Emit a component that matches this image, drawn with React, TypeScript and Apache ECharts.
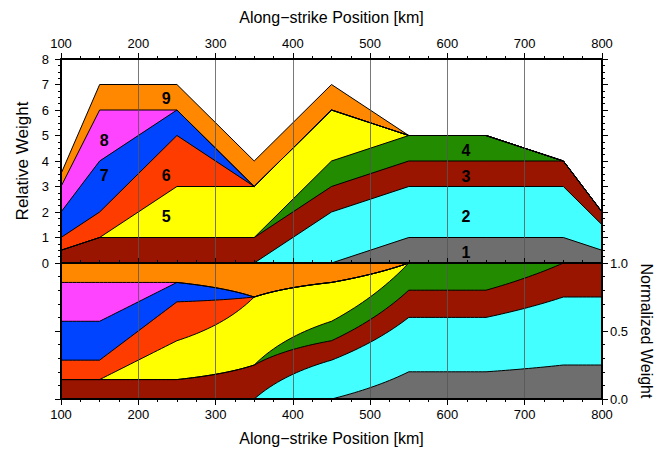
import React, { useEffect, useRef } from 'react';
import * as echarts from 'echarts';

// Along-strike positions (km) where the layer weights are defined
const positions = [100, 150, 250, 350, 450, 550, 650, 750, 800];

// Relative weight (thickness) of each layer at the positions above
const layer1 = [0, 0, 0, 0, 0, 1, 1, 1, 0.5];
const layer2 = [0, 0, 0, 0, 2, 2, 2, 2, 1];
const layer3 = [0.5, 1, 1, 1, 1, 1, 1, 1, 0.5];
const layer4 = [0, 0, 0, 0, 1, 1, 1, 0, 0];
const layer5 = [0, 0, 2, 2, 2, 0, 0, 0, 0];
const layer6 = [0.5, 1, 2, 0, 0, 0, 0, 0, 0];
const layer7 = [1, 2, 1, 0, 0, 0, 0, 0, 0];
const layer8 = [1, 2, 0, 0, 0, 0, 0, 0, 0];
const layer9 = [0.5, 1, 1, 1, 1, 0, 0, 0, 0];

const layerNames = ['1', '2', '3', '4', '5', '6', '7', '8', '9'];
const layerColors = ['#6e6e6e', '#44ffff', '#991500', '#228b00', '#ffff00', '#ff3c00', '#0044ff', '#ff44ff', '#ff8800'];

// Label anchor points (data coordinates in the upper panel)
const labelPosX = [624, 624, 624, 624, 236, 236, 156, 156, 236];
const labelPosY = [0.43, 1.84, 3.41, 4.43, 1.84, 3.45, 3.45, 4.82, 6.45];

const xTicks = [100, 800, 100]; // min, max, interval
const TITLE_X = 'Along\u2212strike Position [km]';
const FONT = "'Liberation Sans', Arial, Helvetica, sans-serif";

const layers = [layer1, layer2, layer3, layer4, layer5, layer6, layer7, layer8, layer9];

// Cumulative (stacked) tops of each layer
const cumulative = layers.map((_, k) =>
  positions.map((_, i) => layers.slice(0, k + 1).reduce((s, l) => s + l[i], 0))
);

// Normalized weight is derived from the relative weights (piecewise-linear layers divided by their total)
const sampleStep = 5;
function weightAt(w: number[], x: number): number {
  for (let i = 0; i < positions.length - 1; i++) {
    const x0 = positions[i];
    const x1 = positions[i + 1];
    if (x >= x0 && x <= x1) {
      const t = (x - x0) / (x1 - x0);
      return w[i] + (w[i + 1] - w[i]) * t;
    }
  }
  return w[w.length - 1];
}
const sampleXs: number[] = [];
for (let x = positions[0]; x <= positions[positions.length - 1] + 1e-9; x += sampleStep) sampleXs.push(x);
const normCumulative = layers.map((_, k) =>
  sampleXs.map((x) => {
    const total = layers.reduce((s, l) => s + weightAt(l, x), 0);
    const part = layers.slice(0, k + 1).reduce((s, l) => s + weightAt(l, x), 0);
    return [x, total > 0 ? Math.min(1, part / total) : 0];
  })
);

export default function App() {
  const ref = useRef<HTMLDivElement>(null);
  useEffect(() => {
    const chart = echarts.init(ref.current!, null, { renderer: 'svg' });
    const axisLine = { show: true, onZero: false, lineStyle: { color: '#000', width: 2 } };
    const tick = (inside: boolean, length: number) => ({ show: true, inside, length, lineStyle: { color: '#000', width: 1 } });
    const minor = (n: number, length: number) => ({ show: true, splitNumber: n, length, lineStyle: { color: '#000', width: 1 } });
    const label = (margin: number) => ({ show: true, margin, fontSize: 13, color: '#000', fontFamily: FONT });
    const nameStyleX = { fontSize: 16, color: '#000', fontFamily: FONT };
    const nameStyleY = { fontSize: 17, color: '#000', fontFamily: FONT };
    const grid = { lineStyle: { color: '#555', width: 0.8 } };
    const [xmin, xmax, xint] = xTicks;

    const series: any[] = [];
    // areas: painted from the top layer down, each filled to the axis
    for (let k = layers.length - 1; k >= 0; k--) {
      series.push({
        type: 'line', name: 'A' + layerNames[k], xAxisIndex: 0, yAxisIndex: 0,
        data: positions.map((x, i) => [x, cumulative[k][i]]), symbol: 'none', silent: true, z: 2,
        lineStyle: { width: 0, opacity: 0 }, areaStyle: { color: layerColors[k], opacity: 1, origin: 'start' },
      });
    }
    layers.forEach((_, k) => {
      series.push({
        type: 'line', name: 'L' + layerNames[k], xAxisIndex: 0, yAxisIndex: 0,
        data: positions.map((x, i) => [x, cumulative[k][i]]), symbol: 'none', silent: true, z: 3,
        lineStyle: { width: 1, color: '#000' },
      });
    });
    for (let k = layers.length - 1; k >= 0; k--) {
      series.push({
        type: 'line', name: 'NA' + layerNames[k], xAxisIndex: 2, yAxisIndex: 2,
        data: normCumulative[k], symbol: 'none', silent: true, z: 2,
        lineStyle: { width: 0, opacity: 0 }, areaStyle: { color: layerColors[k], opacity: 1, origin: 'start' },
      });
    }
    layers.forEach((_, k) => {
      series.push({
        type: 'line', name: 'NL' + layerNames[k], xAxisIndex: 2, yAxisIndex: 2,
        data: normCumulative[k], symbol: 'none', silent: true, z: 3,
        lineStyle: { width: 1, color: '#000' },
      });
    });
    series.push({
      type: 'scatter', name: 'labels', xAxisIndex: 0, yAxisIndex: 0, symbol: 'circle', symbolSize: 1, silent: true, z: 6,
      itemStyle: { color: 'rgba(0,0,0,0)' },
      label: {
        show: true, position: 'inside', formatter: (p: any) => p.name, fontSize: 16, fontWeight: 'bold',
        color: '#000', textBorderWidth: 0, opacity: 1, fontFamily: FONT,
      },
      data: layerNames.map((n, k) => ({ name: n, value: [labelPosX[k], labelPosY[k]] })),
    });

    chart.setOption({
      animation: false,
      backgroundColor: '#fff',
      grid: [
        { left: 61, top: 59, width: 541, height: 204, outerBoundsMode: 'none', containLabel: false },
        { left: 61, top: 263, width: 541, height: 136, outerBoundsMode: 'none', containLabel: false },
      ],
      xAxis: [
        {
          gridIndex: 0, type: 'value', min: xmin, max: xmax, interval: xint, position: 'top', z: 5,
          axisLine, axisTick: tick(false, 6), minorTick: minor(4, 3), axisLabel: label(9),
          splitLine: { show: true, ...grid }, name: TITLE_X, nameLocation: 'middle', nameGap: 34, nameTextStyle: nameStyleX,
        },
        {
          gridIndex: 0, type: 'value', min: xmin, max: xmax, interval: xint, position: 'bottom', z: 5,
          axisLine, axisTick: tick(true, 5), minorTick: minor(4, 3), axisLabel: { show: false }, splitLine: { show: false },
        },
        {
          gridIndex: 1, type: 'value', min: xmin, max: xmax, interval: xint, position: 'bottom', z: 5,
          axisLine, axisTick: tick(false, 6), minorTick: minor(4, 3), axisLabel: label(9),
          splitLine: { show: true, ...grid }, name: TITLE_X, nameLocation: 'middle', nameGap: 31, nameTextStyle: nameStyleX,
        },
        {
          gridIndex: 1, type: 'value', min: xmin, max: xmax, interval: xint, position: 'top', z: 5,
          axisLine, axisTick: { show: false }, axisLabel: { show: false }, splitLine: { show: false },
        },
      ],
      yAxis: [
        {
          gridIndex: 0, type: 'value', min: 0, max: 8, interval: 1, position: 'left', z: 5,
          axisLine, axisTick: tick(false, 6), minorTick: minor(4, 3), axisLabel: label(12), splitLine: { show: false },
          name: 'Relative Weight', nameLocation: 'middle', nameGap: 30, nameTextStyle: nameStyleY,
        },
        {
          gridIndex: 0, type: 'value', min: 0, max: 8, interval: 1, position: 'right', z: 5,
          axisLine, axisTick: tick(false, 6), minorTick: minor(4, 3), axisLabel: { show: false }, splitLine: { show: false },
        },
        {
          gridIndex: 1, type: 'value', min: 0, max: 1, interval: 0.5, position: 'left', z: 5,
          axisLine, axisTick: tick(false, 6), minorTick: minor(5, 3), axisLabel: { show: false }, splitLine: { show: false },
        },
        {
          gridIndex: 1, type: 'value', min: 0, max: 1, interval: 0.5, position: 'right', z: 5,
          axisLine, axisTick: tick(false, 6), minorTick: minor(5, 3),
          axisLabel: { ...label(8), formatter: (v: number) => v.toFixed(1) }, splitLine: { show: false },
          name: 'Normalized Weight', nameLocation: 'middle', nameRotate: -90, nameGap: 30,
          nameTextStyle: { ...nameStyleY, fontSize: 16 },
        },
      ],
      series,
    });
    return () => chart.dispose();
  }, []);
  return <div ref={ref} style={{ position: 'absolute', left: 0, top: 0, width: 655, height: 450 }} />;
}
